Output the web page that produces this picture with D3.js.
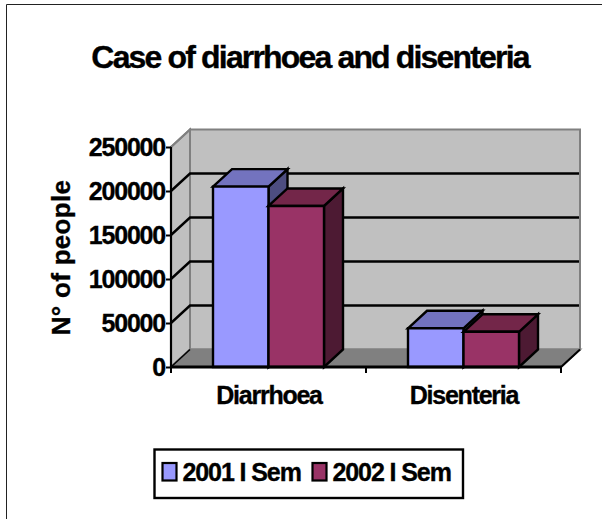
<!DOCTYPE html>
<html><head><meta charset="utf-8">
<script src="https://cdn.jsdelivr.net/npm/d3@7"></script>
<style>html,body{margin:0;padding:0;background:#fff}svg{display:block}text{font-family:"Liberation Sans",Arial,sans-serif;font-weight:bold;fill:#000;stroke:#000;stroke-width:.35px}</style>
</head><body><div id="c"></div>
<script>
const categories = ["Diarrhoea", "Disenteria"];
const seriesNames = ["2001 I Sem", "2002 I Sem"];
const series2001 = [205000, 44000];
const series2002 = [183000, 40000];
const yTicks = [0, 50000, 100000, 150000, 200000, 250000];
const titleText = "Case of diarrhoea and disenteria";
const yTitle = "N° of people";
const frontColors = ["#9999FF", "#993366"];
const topColors = ["#7373BF", "#732649"];
const sideColors = ["#4D4D80", "#4D1A33"];

const W = 602, H = 519, dx = 19, dy = -17.5;
const svg = d3.select("#c").append("svg").attr("width", W).attr("height", H);
const y = d3.scaleLinear().domain([0, 250000]).range([367, 147]);
const x0 = d3.scaleBand().domain(categories).range([171, 561]);
const x1 = d3.scaleBand().domain(seriesNames).range([0, 111]);
const line = d3.line();
const poly = (pts, fill, sw = 2.4) => svg.append("path").attr("d", line(pts) + "Z")
  .attr("fill", fill).attr("stroke", "#000").attr("stroke-width", sw).attr("stroke-linejoin", "miter");

// frame
svg.append("path").attr("d", "M6.5,519V4.5H602").attr("fill", "none").attr("stroke", "#222").attr("stroke-width", 1);

// walls
const L = x0.range()[0], R = x0.range()[1], T = y(250000), B = y(0);
const wall = (pts, fill) => svg.append("path").attr("d", line(pts) + "Z").attr("fill", fill).attr("stroke", "#808080").attr("stroke-width", 2);
wall([[L, B], [L + dx, B + dy], [L + dx, T + dy], [L, T]], "#C0C0C0");
wall([[L + dx, B + dy], [R + dx, B + dy], [R + dx, T + dy], [L + dx, T + dy]], "#C0C0C0");
wall([[L, B], [R, B], [R + dx, B + dy], [L + dx, B + dy]], "#808080");

// gridlines
yTicks.slice(1, -1).forEach(v => {
  svg.append("path").attr("d", line([[L, y(v)], [L + dx, y(v) + dy], [R + dx - 1, y(v) + dy]]))
    .attr("fill", "none").attr("stroke", "#000").attr("stroke-width", 2.4);
});
svg.append("path").attr("d", line([[L, T], [L + dx, T + dy]])).attr("stroke", "#808080").attr("stroke-width", 2);
svg.append("path").attr("d", line([[L, B], [L + dx, B + dy]])).attr("stroke", "#000").attr("stroke-width", 1.5);
svg.append("path").attr("d", line([[R, B], [R + dx, B + dy]])).attr("stroke", "#000").attr("stroke-width", 2);

// bars
categories.forEach((c, i) => {
  [series2001, series2002].forEach((s, k) => {
    const a = x0(c) + 42 + x1(seriesNames[k]), b = a + x1.bandwidth(), t = y(s[i]);
    poly([[b, B], [b + dx, B + dy], [b + dx, t + dy], [b, t]], sideColors[k]);
    poly([[a, t], [a + dx, t + dy], [b + dx, t + dy], [b, t]], topColors[k]);
    poly([[a, B], [a, t], [b, t], [b, B]], frontColors[k]);
  });
});

// axes
const gy = svg.append("g").attr("transform", `translate(${L},0)`)
  .call(d3.axisLeft(y).tickValues(yTicks).tickFormat(d3.format("d")).tickSize(5).tickPadding(1));
gy.select(".domain").attr("stroke-width", 2.2).attr("d", `M0,${T}V${B}`);
gy.selectAll("line").attr("stroke-width", 2);
gy.selectAll("text").attr("font-size", 25).attr("letter-spacing", -1.2).attr("dy", "0.32em").style("font-family", '"Liberation Sans"');

const gx = svg.append("g").attr("transform", `translate(0,${B})`)
  .call(d3.axisBottom(x0).tickSize(0).tickPadding(19));
gx.select(".domain").attr("stroke-width", 3).attr("d", `M${L},0H${R}`);
gx.selectAll("text").attr("font-size", 25).attr("letter-spacing", -1.25).attr("dx", 0.5).style("font-family", '"Liberation Sans"');
[L, (L + R) / 2, R].forEach(v => svg.append("line").attr("x1", v).attr("x2", v).attr("y1", B).attr("y2", B + 6).attr("stroke", "#000").attr("stroke-width", 2));

// titles
svg.append("text").attr("x", 310).attr("y", 68).attr("text-anchor", "middle")
  .attr("font-size", 32).attr("letter-spacing", -1.84).text(titleText);
svg.append("text").attr("transform", "translate(70,257.5) rotate(-90)").attr("text-anchor", "middle")
  .attr("font-size", 26).attr("letter-spacing", 0.3).text(yTitle);

// legend
svg.append("rect").attr("x", 154.5).attr("y", 449.5).attr("width", 308.5).attr("height", 48.5)
  .attr("fill", "#fff").attr("stroke", "#000").attr("stroke-width", 2.4);
const legendX = d3.scaleOrdinal().domain(seriesNames).range([162.5, 312.5]);
seriesNames.forEach((n, k) => {
  svg.append("rect").attr("x", legendX(n)).attr("y", 463).attr("width", 14).attr("height", 17.5)
    .attr("fill", frontColors[k]).attr("stroke", "#000").attr("stroke-width", 2.2);
  svg.append("text").attr("x", legendX(n) + 20).attr("y", 481).attr("font-size", 25).attr("letter-spacing", -1.1).text(n);
});
</script></body></html>
